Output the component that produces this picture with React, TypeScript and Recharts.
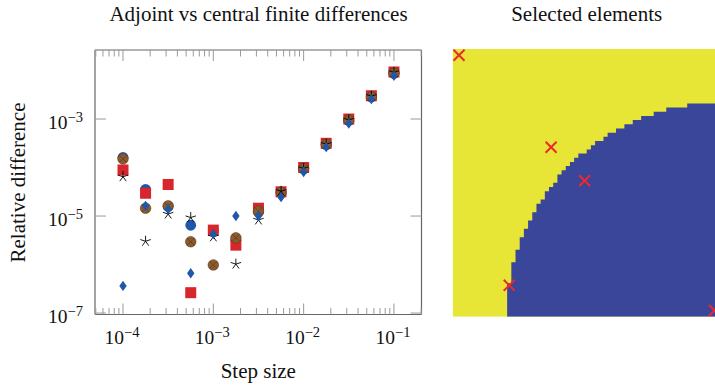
import React from 'react';
import { ScatterChart, Scatter, XAxis, YAxis, ComposedChart, Area } from 'recharts';

// ---------------- data: left panel ----------------
const stepSizes = [1e-4, 1.778e-4, 3.162e-4, 5.623e-4, 1e-3, 1.778e-3, 3.162e-3, 5.623e-3, 1e-2, 1.778e-2, 3.162e-2, 5.623e-2, 1e-1];
const blueCircleValues = [1.62e-4, 3.55e-5, 1.58e-5, 6.46e-6, 5.0e-6, 3.16e-6, 1.2e-5, 3.02e-5, 9.33e-5, 2.95e-4, 9.33e-4, 2.88e-3, 8.71e-3];
const redSquareValues = [8.9e-5, 2.95e-5, 4.47e-5, 2.63e-7, 5.13e-6, 2.51e-6, 1.45e-5, 3.16e-5, 1.0e-4, 3.16e-4, 1.0e-3, 3.02e-3, 9.33e-3];
const brownCircleValues = [1.51e-4, 1.45e-5, 1.62e-5, 2.95e-6, 9.8e-7, 3.55e-6, 1.26e-5, 3.09e-5, 9.55e-5, 3.02e-4, 9.55e-4, 2.88e-3, 8.91e-3];
const starValues = [6.46e-5, 3.02e-6, 1.1e-5, 9.3e-6, 3.72e-6, 1.02e-6, 8.3e-6, 3.24e-5, 9.55e-5, 3.02e-4, 9.55e-4, 2.95e-3, 9.12e-3];
const diamondValues = [3.63e-7, 1.62e-5, 1.38e-5, 6.6e-7, 4.27e-6, 1.0e-5, 1.0e-5, 2.45e-5, 8.1e-5, 2.63e-4, 8.1e-4, 2.57e-3, 7.76e-3];

const xDecades = [-5, -4, -3, -2, -1];
const xMinorMultipliers = [2, 3, 4, 5, 6, 7, 8, 9];
const xLabelExponents = [-4, -3, -2, -1];
const yLabelExponents = [-7, -5, -3];
const xDomainLog: [number, number] = [-4.31, -0.695];
const yDomainLog: [number, number] = [-7.03, -1.577];

// ---------------- data: right panel ----------------
const gridSize = 64;
const blueColumnHeights = [
  0, 0, 0, 0, 0, 0, 0, 0, 0, 0, 0, 0, 0,
  8, 13, 16, 19, 21, 23, 25, 27, 28, 30, 31, 32, 34, 35, 36, 37, 38, 39, 39,
  40, 41, 42, 42, 43, 44, 44, 45, 45, 46, 46, 47, 47, 48, 48, 48, 49, 49, 49,
  50, 50, 50, 50, 50, 51, 51, 51, 51, 51, 51, 51, 51,
];
const selectedCells = [
  { col: 1, row: 62 },
  { col: 23, row: 40 },
  { col: 31, row: 32 },
  { col: 13, row: 7 },
  { col: 62, row: 1 },
];

// ---------------- styling ----------------
const FONT = '"Liberation Serif", "Times New Roman", serif';
const TICK = '#9a9a9a';
const BORDER = '#666666';
const BLUE = '#1f58a8';
const RED = '#d8262d';
const BROWN = '#8b5a2e';
const MAP_YELLOW = '#e7e535';
const MAP_BLUE = '#3a469a';
const MARK_RED = '#ea2a2c';

const toPoints = (vals: number[]) => stepSizes.map((s, i) => ({ x: Math.log10(s), y: Math.log10(vals[i]) }));

const xTicks = (() => {
  const t: number[] = [];
  xDecades.forEach((d) => {
    t.push(d);
    xMinorMultipliers.forEach((m) => t.push(d + Math.log10(m)));
  });
  return t.filter((v) => v >= xDomainLog[0] && v <= xDomainLog[1]);
})();

const isMajor = (v: number) => Math.abs(v - Math.round(v)) < 1e-9;

const XTick = (props: any) => {
  const { x, y, payload, side } = props;
  const v = payload.value as number;
  const major = isMajor(v);
  const len = major ? 11 : 6.5;
  const d = side === 'top' ? 1 : -1;
  const showLabel = side === 'bottom' && major && xLabelExponents.includes(Math.round(v));
  return (
    <g>
      <line x1={x} y1={y} x2={x} y2={y + d * len} stroke={TICK} strokeWidth={1} />
      {showLabel ? (
        <text x={x - 1} y={y + 29.5} textAnchor="middle" fill="#111" fontFamily={FONT}>
          <tspan fontSize={19.5}>10</tspan>
          <tspan fontSize={14.5} dy={-7}>{'\u2212' + Math.abs(Math.round(v))}</tspan>
        </text>
      ) : null}
    </g>
  );
};

const YTick = (props: any) => {
  const { x, y, payload, side } = props;
  const v = payload.value as number;
  const d = side === 'left' ? 1 : -1;
  return (
    <g>
      <line x1={x} y1={y} x2={x + d * 11} y2={y} stroke={TICK} strokeWidth={1} />
      {side === 'left' ? (
        <text x={x - 12} y={y + 10} textAnchor="end" fill="#111" fontFamily={FONT}>
          <tspan fontSize={19.5}>10</tspan>
          <tspan fontSize={14.5} dy={-7}>{'\u2212' + Math.abs(Math.round(v))}</tspan>
        </text>
      ) : null}
    </g>
  );
};

const BlueCircle = (p: any) => <circle cx={p.cx} cy={p.cy} r={5.4} fill={BLUE} />;
const RedSquare = (p: any) => <rect x={p.cx - 5.5} y={p.cy - 5.5} width={11} height={11} fill={RED} />;
const BrownCircle = (p: any) => {
  const r = 5.3;
  const k = r * 0.7071;
  return (
    <g>
      <circle cx={p.cx} cy={p.cy} r={r} fill={BROWN} stroke="#5e3b1c" strokeWidth={0.6} />
      <line x1={p.cx - k} y1={p.cy - k} x2={p.cx + k} y2={p.cy + k} stroke="#5e3b1c" strokeWidth={0.7} />
      <line x1={p.cx - k} y1={p.cy + k} x2={p.cx + k} y2={p.cy - k} stroke="#5e3b1c" strokeWidth={0.7} />
    </g>
  );
};
const Star = (p: any) => {
  const r = 5.5;
  const arms = [0, 1, 2, 3, 4].map((k) => {
    const a = (-90 + 72 * k) * (Math.PI / 180);
    return <line key={k} x1={p.cx} y1={p.cy} x2={p.cx + r * Math.cos(a)} y2={p.cy + r * Math.sin(a)} stroke="#000" strokeWidth={0.9} />;
  });
  return <g>{arms}</g>;
};
const Diamond = (p: any) => (
  <polygon
    points={`${p.cx},${p.cy - 5.2} ${p.cx + 3.7},${p.cy} ${p.cx},${p.cy + 5.2} ${p.cx - 3.7},${p.cy}`}
    fill={BLUE}
  />
);
const Nothing = () => <g />;
const XMark = (p: any) => {
  const s = 5.5;
  return (
    <g>
      <line x1={p.cx - s} y1={p.cy - s} x2={p.cx + s} y2={p.cy + s} stroke={MARK_RED} strokeWidth={2} />
      <line x1={p.cx - s} y1={p.cy + s} x2={p.cx + s} y2={p.cy - s} stroke={MARK_RED} strokeWidth={2} />
    </g>
  );
};

const mapData = [
  ...blueColumnHeights.map((h, c) => ({ x: c, h, full: gridSize })),
  { x: gridSize, h: blueColumnHeights[blueColumnHeights.length - 1], full: gridSize },
];
const markerData = selectedCells.map((m) => ({ x: m.col + 0.5, h: m.row + 0.5 }));

const axisLine = { stroke: BORDER, strokeWidth: 1.2 };

export default function App() {
  return (
    <div style={{ position: 'absolute', left: 0, top: 0, width: 715, height: 385, overflow: 'hidden', background: '#fff' }}>
      <div style={{ position: 'absolute', left: 0, top: 0 }}>
        <ScatterChart width={715} height={385} margin={{ top: 49, right: 292.5, bottom: 40.5, left: 0 }}>
          <XAxis
            xAxisId="b"
            dataKey="x"
            type="number"
            domain={xDomainLog}
            allowDataOverflow
            ticks={xTicks}
            interval={0}
            height={30}
            tickSize={0}
            tickMargin={0}
            axisLine={axisLine}
            tickLine={false}
            tick={(p: any) => <XTick {...p} side="bottom" />}
          />
          <XAxis
            xAxisId="t"
            orientation="top"
            dataKey="x"
            type="number"
            domain={xDomainLog}
            allowDataOverflow
            ticks={xTicks}
            interval={0}
            height={1}
            tickSize={0}
            tickMargin={0}
            axisLine={axisLine}
            tickLine={false}
            tick={(p: any) => <XTick {...p} side="top" />}
          />
          <YAxis
            yAxisId="l"
            dataKey="y"
            type="number"
            domain={yDomainLog}
            allowDataOverflow
            ticks={yLabelExponents}
            interval={0}
            width={95}
            tickSize={0}
            tickMargin={0}
            axisLine={axisLine}
            tickLine={false}
            tick={(p: any) => <YTick {...p} side="left" />}
          />
          <YAxis
            yAxisId="r"
            orientation="right"
            dataKey="y"
            type="number"
            domain={yDomainLog}
            allowDataOverflow
            ticks={yLabelExponents}
            interval={0}
            width={1}
            tickSize={0}
            tickMargin={0}
            axisLine={axisLine}
            tickLine={false}
            tick={(p: any) => <YTick {...p} side="right" />}
          />
          <Scatter xAxisId="t" yAxisId="r" data={toPoints(starValues)} shape={Nothing} isAnimationActive={false} />
          <Scatter xAxisId="b" yAxisId="l" data={toPoints(blueCircleValues)} shape={BlueCircle} isAnimationActive={false} />
          <Scatter xAxisId="b" yAxisId="l" data={toPoints(redSquareValues)} shape={RedSquare} isAnimationActive={false} />
          <Scatter xAxisId="b" yAxisId="l" data={toPoints(brownCircleValues)} shape={BrownCircle} isAnimationActive={false} />
          <Scatter xAxisId="b" yAxisId="l" data={toPoints(starValues)} shape={Star} isAnimationActive={false} />
          <Scatter xAxisId="b" yAxisId="l" data={toPoints(diamondValues)} shape={Diamond} isAnimationActive={false} />
        </ScatterChart>
      </div>
      <div style={{ position: 'absolute', left: 0, top: 0 }}>
        <ComposedChart width={722} height={385} data={mapData} margin={{ top: 49, right: 1.3, bottom: 68.3, left: 452.7 }}>
          <XAxis dataKey="x" type="number" domain={[0, gridSize]} allowDataOverflow hide />
          <YAxis type="number" domain={[0, gridSize]} allowDataOverflow hide />
          <Area dataKey="full" type="linear" stroke="none" fill={MAP_YELLOW} fillOpacity={1} dot={false} activeDot={false} isAnimationActive={false} />
          <Area dataKey="h" type="stepAfter" stroke="none" fill={MAP_BLUE} fillOpacity={1} dot={false} activeDot={false} isAnimationActive={false} />
          <Scatter data={markerData} dataKey="h" shape={XMark} isAnimationActive={false} />
        </ComposedChart>
      </div>
      <svg width={715} height={385} style={{ position: 'absolute', left: 0, top: 0, pointerEvents: 'none' }}>
        <text x={258.5} y={21} textAnchor="middle" fontFamily={FONT} fontSize={21} fill="#111">
          Adjoint vs central finite differences
        </text>
        <text x={586.7} y={21} textAnchor="middle" fontFamily={FONT} fontSize={21} fill="#111">
          Selected elements
        </text>
        <text x={258.3} y={378} textAnchor="middle" fontFamily={FONT} fontSize={21} fill="#111">
          Step size
        </text>
        <text
          x={25}
          y={182.5}
          textAnchor="middle"
          fontFamily={FONT}
          fontSize={21}
          fill="#111"
          transform="rotate(-90 25 182.5)"
        >
          Relative difference
        </text>
      </svg>
    </div>
  );
}
